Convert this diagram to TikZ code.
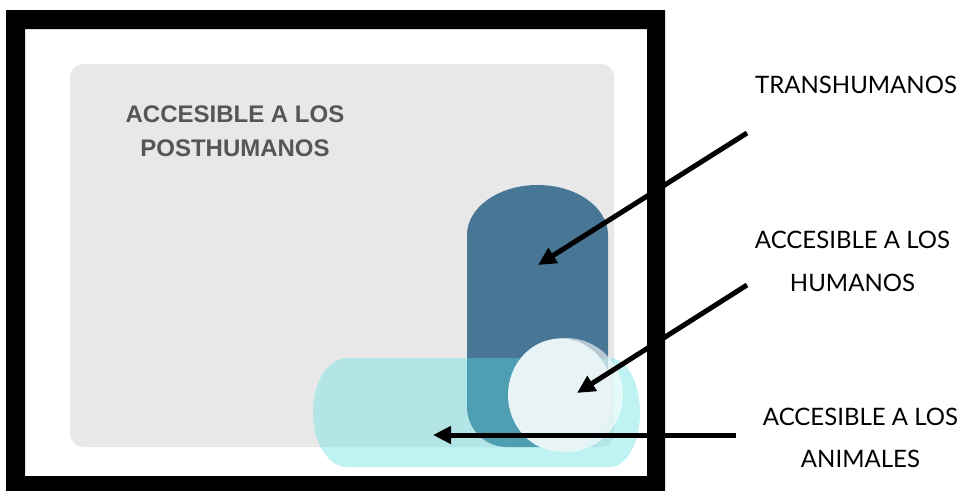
\documentclass[tikz,border=0pt]{standalone}
\usepackage{fontspec}
\setmainfont{Lato}
\newfontfamily\arialfont{Liberation Sans}
\usetikzlibrary{arrows.meta}
\definecolor{panelgray}{HTML}{E8E8E8}
\definecolor{pilldark}{HTML}{477795}
\definecolor{cyanwhite}{HTML}{BFF2F2}
\definecolor{cyangray}{HTML}{B3E5E6}
\definecolor{cyanblue}{HTML}{4E9FB2}
\definecolor{circlefill}{HTML}{E8F3F6}
\definecolor{labelgray}{HTML}{565656}
\tikzset{
  sidelabel/.style={inner sep=0pt, anchor=base, text=black, font=\fontsize{24}{24}\selectfont},
  panellabel/.style={inner sep=0pt, anchor=base, text=labelgray, font=\arialfont\bfseries\fontsize{24}{24}\selectfont},
  pointer/.style={line width=5pt, draw=black, -{Triangle[length=18pt,width=17pt]}},
}
\begin{document}
\begin{tikzpicture}[x=1pt,y=-1pt]
\useasboundingbox (0,0) rectangle (958,490);
\fill[white] (0,0) rectangle (958,490);
% black frame
\fill[black, even odd rule] (6,10) rectangle (665,492) (25,29) rectangle (647,476);
% gray panel
\fill[panelgray, rounded corners=13pt] (70,64) rectangle (614,447);
% dark pill
\def\darkpill{(467,235) arc[start angle=180, end angle=360, x radius=70.5, y radius=50] -- (608,407) arc[start angle=0, end angle=90, radius=40] -- (507,447) arc[start angle=90, end angle=180, radius=40] -- cycle}
\fill[pilldark] \darkpill;
% cyan pill, painted per background
\def\cyanpill{(347,358) -- (610,358) arc[start angle=270, end angle=450, x radius=30, y radius=54.5] -- (347,467) arc[start angle=90, end angle=270, x radius=34, y radius=54.5] -- cycle}
\fill[cyanwhite] \cyanpill;
\begin{scope}
  \clip[rounded corners=13pt] (70,64) rectangle (614,447);
  \fill[cyangray] \cyanpill;
\end{scope}
\begin{scope}
  \clip \darkpill;
  \fill[cyanblue] \cyanpill;
\end{scope}
% circle
\fill[white, opacity=0.6] (566,395) circle[radius=57];
\fill[circlefill] (560.5,395) ellipse[x radius=52.5, y radius=56.5];
% panel label
\node[panellabel] (p1) at (235,122) {ACCESIBLE A LOS};
\node[panellabel] (p2) at (235,156) {POSTHUMANOS};
% side labels
\node[sidelabel] (t1) at (856,93) {TRANSHUMANOS};
\node[sidelabel] (h1) at (852.5,248) {ACCESIBLE A LOS};
\node[sidelabel] (h2) at (852.5,291) {HUMANOS};
\node[sidelabel] (a1) at (860.5,425) {ACCESIBLE A LOS};
\node[sidelabel] (a2) at (860.5,467) {ANIMALES};
% arrows
\coordinate (ts) at (747,133);
\coordinate (tt) at (538,265);
\coordinate (hs) at (747,285);
\coordinate (ht) at (577,393);
\coordinate (as) at (736,435);
\coordinate (at) at (433,435);
\draw[pointer] (ts) -- (tt);
\draw[pointer] (hs) -- (ht);
\draw[pointer] (as) -- (at);
\end{tikzpicture}
\end{document}
